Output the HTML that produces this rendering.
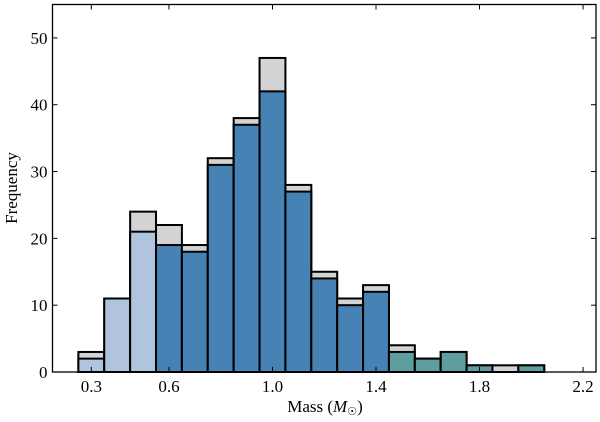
<!DOCTYPE html>
<html><head><meta charset="utf-8"><style>
body{margin:0;background:#fff}
svg text{font-family:"Liberation Serif",serif;fill:#000}
</style></head><body>
<svg id="c" width="600" height="417" viewBox="0 0 600 417" xmlns="http://www.w3.org/2000/svg">
<g id="bars"></g>
<rect x="52.5" y="4.5" width="543.5" height="367.5" fill="none" stroke="#000" stroke-width="1.3"/>
<g id="axes"></g>
<text x="325" y="412" font-size="17" text-anchor="middle">Mass (<tspan font-style="italic">M</tspan><tspan font-size="11" dy="3">☉</tspan><tspan dy="-3">)</tspan></text>
<text transform="translate(17,188) rotate(-90)" font-size="17" text-anchor="middle">Frequency</text>
</svg>
<script>
const binStarts=[0.25,0.35,0.45,0.55,0.65,0.75,0.85,0.95,1.05,1.15,1.25,1.35,1.45,1.55,1.65,1.75,1.85,1.95];
const totalCounts=[3,11,24,22,19,32,38,47,28,15,11,13,4,2,3,1,1,1];
const coloredCounts=[2,11,21,19,18,31,37,42,27,14,10,12,3,2,3,1,0,1];
const binWidth=0.1;
const xTicks=[0.3,0.6,1.0,1.4,1.8,2.2];
const xTickLabels=["0.3","0.6","1.0","1.4","1.8","2.2"];
const yTicks=[0,10,20,30,40,50];
const L=52.5,R=596,T=4.5,B=372,X0=0.15,X1=2.25,Y0=0,Y1=55;
const sx=v=>L+(v-X0)/(X1-X0)*(R-L);
const sy=v=>B-(v-Y0)/(Y1-Y0)*(B-T);
const NS="http://www.w3.org/2000/svg";
const bars=document.getElementById('bars');
function colorFor(s){return s<0.5?'#b0c4de':(s<1.4?'#4682b4':'#5f9ea0');}
binStarts.forEach((s,i)=>{
  const x=sx(s),w=sx(s+binWidth)-x;
  const g=document.createElementNS(NS,'rect');
  
  
  g.setAttribute('x',x);g.setAttribute('y',sy(totalCounts[i]));
  g.setAttribute('width',w);g.setAttribute('height',sy(0)-sy(totalCounts[i]));
  g.setAttribute('fill','#d3d3d3');g.setAttribute('stroke','#000');g.setAttribute('stroke-width','2');
  bars.appendChild(g);
  if(coloredCounts[i]>0){
    const c=document.createElementNS(NS,'rect');
    
    
    c.setAttribute('x',x);c.setAttribute('y',sy(coloredCounts[i]));
    c.setAttribute('width',w);c.setAttribute('height',sy(0)-sy(coloredCounts[i]));
    c.setAttribute('fill',colorFor(s));c.setAttribute('stroke','#000');c.setAttribute('stroke-width','2');
    bars.appendChild(c);
  }
});
const ax=document.getElementById('axes');
function line(x1,y1,x2,y2,n){const l=document.createElementNS(NS,'line');


l.setAttribute('x1',x1);l.setAttribute('y1',y1);l.setAttribute('x2',x2);l.setAttribute('y2',y2);l.setAttribute('stroke','#000');l.setAttribute('stroke-width','1');ax.appendChild(l);}
function text(x,y,s,a,n){const t=document.createElementNS(NS,'text');


t.setAttribute('x',x);t.setAttribute('y',y);t.setAttribute('font-size','17');t.setAttribute('text-anchor',a);t.textContent=s;ax.appendChild(t);}
xTicks.forEach((v,i)=>{const x=sx(v);line(x,B,x,B-5,'x-tick');line(x,T,x,T+5,'x-tick-top');text(x,B+20,xTickLabels[i],'middle','x-tick-label');});
yTicks.forEach(v=>{const y=sy(v);line(L,y,L+5,y,'y-tick');line(R,y,R-5,y,'y-tick-right');text(L-5,y+6,String(v),'end','y-tick-label');});
</script>
</body></html>
